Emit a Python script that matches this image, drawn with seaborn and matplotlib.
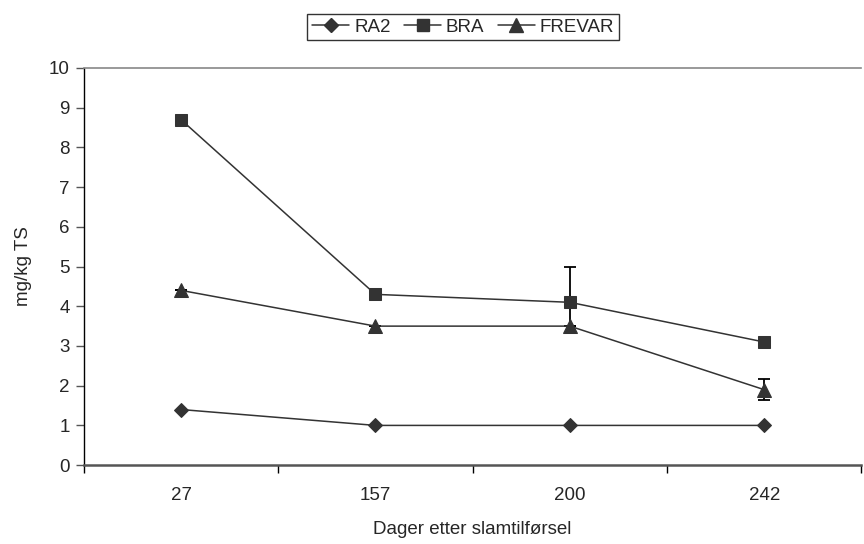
import numpy as np
import pandas as pd
import seaborn as sns
import matplotlib
import matplotlib.pyplot as plt
from matplotlib.lines import Line2D

matplotlib.use('Agg')

days = ['27', '157', '200', '242']
series = ['RA2', 'BRA', 'FREVAR']
ra2 = [1.4, 1.0, 1.0, 1.0]
bra = [8.7, 4.3, 4.1, 3.1]
frevar = [4.4, 3.5, 3.5, 1.9]

# error bars (only where visible in the figure)
bra_err_low = [0, 0, 0.6, 0]
bra_err_high = [0, 0, 0.9, 0]
frevar_err = [0, 0, 0, 0.27]

sns.set_style('white')
plt.rcParams['font.family'] = ['Liberation Sans', 'DejaVu Sans']

df = pd.DataFrame({
    'pos': list(range(len(days))) * 3,
    'verdi': ra2 + bra + frevar,
    'serie': [s for s in series for _ in days],
})

fig = plt.figure(figsize=(8.64, 5.44), dpi=100)
ax = fig.add_axes([0.097, 0.145, 0.9, 0.73])

col = '#333333'
fs = 13.5
markers = {'RA2': 'D', 'BRA': 's', 'FREVAR': '^'}
msize = {'RA2': 7, 'BRA': 9, 'FREVAR': 10}

ax.errorbar(range(len(days)), bra, yerr=[bra_err_low, bra_err_high], fmt='none',
            ecolor='black', elinewidth=1.3, capsize=4, capthick=1.3, zorder=2)
ax.errorbar(range(len(days)), frevar, yerr=frevar_err, fmt='none',
            ecolor='black', elinewidth=1.3, capsize=4, capthick=1.3, zorder=2)

for s in series:
    sub = df[df['serie'] == s]
    sns.lineplot(data=sub, x='pos', y='verdi', ax=ax, color=col, linewidth=1.1,
                 marker=markers[s], markersize=msize[s], markeredgecolor=col,
                 markerfacecolor=col, zorder=3, legend=False)

ax.set_xlim(-0.5, len(days) - 0.5)
ax.set_ylim(0, 10)
ax.set_yticks(range(0, 11))
ax.set_xticks(np.arange(-0.5, len(days), 1.0))
ax.set_xticklabels([])
ax.set_xticks(range(len(days)), minor=True)
ax.set_xticklabels(days, minor=True)
ax.tick_params(axis='x', which='major', direction='out', length=6, width=1, color='black', bottom=True)
ax.tick_params(axis='x', which='minor', length=0, pad=16, labelsize=fs)
ax.tick_params(axis='y', direction='out', length=6, width=1, color='#555555', left=True,
               labelsize=fs, pad=4)

ax.spines['right'].set_visible(False)
ax.spines['top'].set_color('#888888')
ax.spines['top'].set_linewidth(1.2)
ax.spines['left'].set_color('black')
ax.spines['left'].set_linewidth(1.0)
ax.spines['bottom'].set_color('#555555')
ax.spines['bottom'].set_linewidth(1.8)

ax.set_xlabel('Dager etter slamtilførsel', fontsize=fs, labelpad=12)
ax.set_ylabel('mg/kg TS', fontsize=fs, labelpad=12)

handles = [Line2D([0], [0], color=col, linewidth=1.1, marker=markers[s],
                  markersize=msize[s], markerfacecolor=col, markeredgecolor=col)
           for s in series]
leg = fig.legend(handles, series, loc='center', bbox_to_anchor=(0.536, 0.95), ncol=3,
                 fontsize=fs, frameon=True, fancybox=False, handlelength=2.0,
                 handletextpad=0.25, columnspacing=0.7, borderpad=0.25)
leg.get_frame().set_edgecolor('black')
leg.get_frame().set_linewidth(1.0)

fig.savefig('out.png', dpi=100)
